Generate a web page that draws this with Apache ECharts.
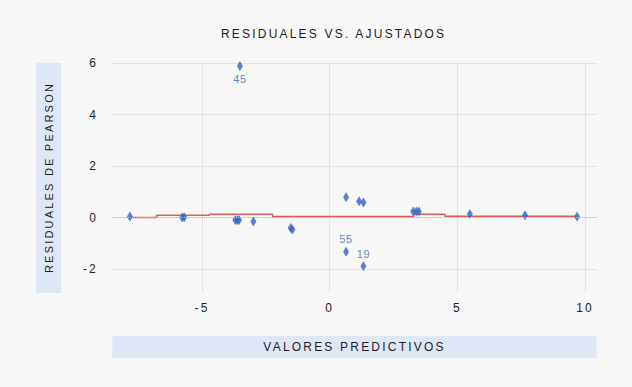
<!DOCTYPE html>
<html>
<head>
<meta charset="utf-8">
<script src="https://cdn.jsdelivr.net/npm/echarts@6/dist/echarts.min.js"></script>
<style>
html,body{margin:0;padding:0;background:#f7f7f7;}
#chart{width:632px;height:387px;}
#chart text{letter-spacing:2.2px;}
#chart text[fill="#3d67b0"]{letter-spacing:0.6px;}
</style>
</head>
<body>
<div id="chart"></div>
<script>
// Residual points: fitted (predicted) values and Pearson residuals
const fittedValues = [-7.83, -5.78, -5.70, -3.70, -3.62, -3.55, -3.52, -2.99, -1.53, -1.46,
                      0.64, 0.64, 1.15, 1.32, 1.32, 3.27, 3.39, 3.49, 5.49, 7.65, 9.69];
const pearsonResiduals = [0.04, 0.0, 0.01, -0.10, -0.11, -0.10, 5.88, -0.15, -0.41, -0.46,
                          0.79, -1.33, 0.63, 0.58, -1.89, 0.23, 0.23, 0.23, 0.14, 0.09, 0.04];
const pointIds = ['', '', '', '', '', '', '45', '', '', '', '', '55', '', '', '19', '', '', '', '', '', ''];
const labelBelow = ['45'];
// Step smoother (red line)
const smoothX = [-7.84, -6.78, -4.71, -2.24, 3.29, 4.51, 9.69];
const smoothY = [0.0, 0.09, 0.13, 0.04, 0.13, 0.05, 0.05];
// Axis ticks
const xTicks = [-5, 0, 5, 10];
const yTickLabels = [-2, 0, 2, 4, 6];
const yGridLines = [-2, 2, 4, 6];
const xRange = [-8.53, 10.47];
const yRange = [-2.93, 6.0];

const font = '"Liberation Sans", Arial, sans-serif';
const pts = fittedValues.map((x, i) => {
  const id = pointIds[i];
  const item = { value: [x, pearsonResiduals[i]] };
  if (id) {
    item.label = {
      show: true,
      formatter: id,
      position: labelBelow.includes(id) ? 'bottom' : 'top',
      distance: 2,
      color: '#3d67b0',
      fontSize: 11,
      fontFamily: font
    };
  }
  return item;
});

const chart = echarts.init(document.getElementById('chart'), null, { renderer: 'svg' });
chart.setOption({
  backgroundColor: '#f7f7f7',
  animation: false,
  title: {
    text: 'RESIDUALES VS. AJUSTADOS',
    left: 221, top: 28, padding: 0,
    textStyle: { fontFamily: font, fontSize: 12, fontWeight: 'normal', color: '#1e1e1e' }
  },
  grid: { left: 112, right: 35, top: 63, bottom: 94 },
  xAxis: {
    type: 'value', min: xRange[0], max: xRange[1],
    name: 'VALORES PREDICTIVOS', nameLocation: 'middle', nameGap: 43,
    nameTextStyle: {
      fontFamily: font, fontSize: 12, color: '#1e1e1e',
      backgroundColor: '#dfe7f7', lineHeight: 14, padding: [4, 172, 4, 172]
    },
    axisLine: { show: true, lineStyle: { color: '#e3e3e3', width: 1 } },
    axisTick: { show: false, customValues: xTicks },
    axisLabel: { customValues: xTicks, color: '#1e1e1e', fontSize: 12, fontFamily: font, margin: 9 },
    splitLine: { show: true, lineStyle: { color: '#e3e3e3', width: 1 } }
  },
  yAxis: {
    type: 'value', min: yRange[0], max: yRange[1],
    name: 'RESIDUALES DE PEARSON', nameLocation: 'middle', nameGap: 51, nameRotate: 90,
    nameTextStyle: {
      fontFamily: font, fontSize: 11, color: '#1e1e1e',
      backgroundColor: '#dfe7f7', lineHeight: 15, padding: [5, 42, 5, 43]
    },
    axisLine: { show: false },
    axisTick: { show: false, customValues: yGridLines },
    axisLabel: { customValues: yTickLabels, color: '#1e1e1e', fontSize: 12, fontFamily: font, margin: 14 },
    splitLine: { show: true, lineStyle: { color: '#e3e3e3', width: 1 } }
  },
  series: [
    {
      type: 'line', step: 'end', symbol: 'none',
      data: smoothX.map((x, i) => [x, smoothY[i]]),
      lineStyle: { color: '#d9605a', width: 1.5 },
      markLine: {
        silent: true, symbol: 'none', label: { show: false },
        lineStyle: { color: '#bdbdbd', type: 'dotted', width: 1 },
        data: [{ yAxis: 0 }]
      },
      z: 2
    },
    {
      type: 'scatter', symbol: 'diamond', symbolSize: [6, 10],
      itemStyle: { color: '#2f63c2' },
      data: pts, z: 3
    }
  ]
});
</script>
</body>
</html>
